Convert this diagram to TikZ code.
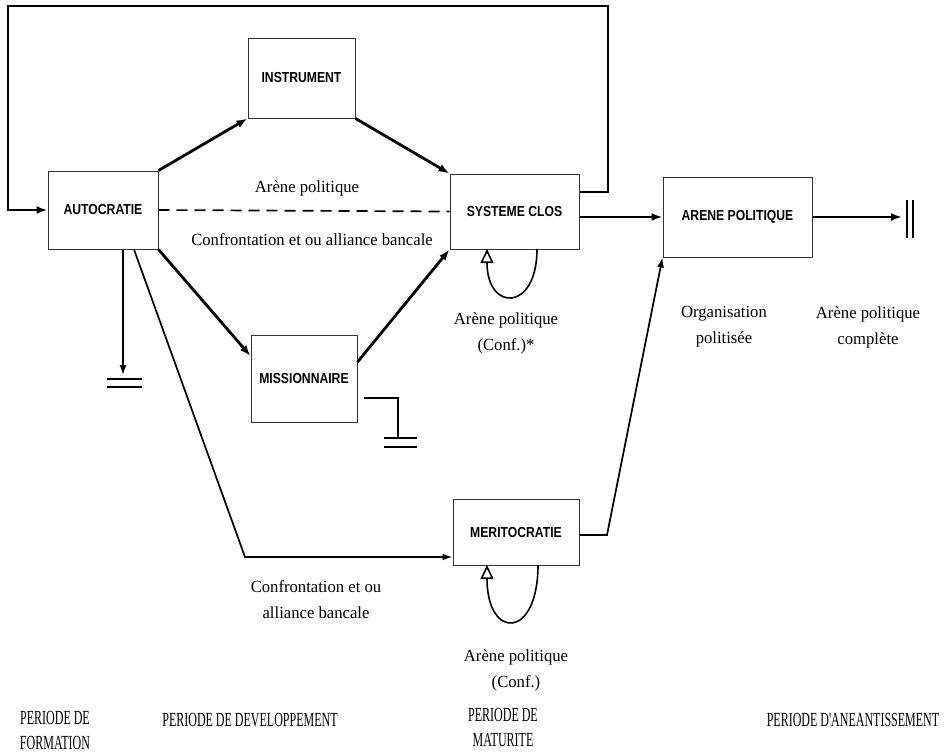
\documentclass[tikz,border=0pt]{standalone}
\usepackage{fontspec}
\setmainfont{Liberation Serif}
\newfontfamily\lblfont[FakeStretch=0.98]{Liberation Serif}
\newfontfamily\perfont[FakeStretch=0.6]{Liberation Serif}
\newfontfamily\boxfont[FakeStretch=0.84]{Liberation Sans}
\usetikzlibrary{arrows.meta}
\begin{document}
\begin{tikzpicture}[x=1pt,y=-1pt,
  stage/.style={draw=black!80, line width=1pt, fill=white, inner sep=0pt,
    font=\boxfont\bfseries\fontsize{14.5}{16}\selectfont},
  heavy/.style={line width=2.8pt, -{Latex[length=11pt,width=8pt]}},
  light/.style={line width=1.7pt, -{Latex[length=10pt,width=7pt]}},
  plain/.style={line width=1.6pt},
  selfloop/.style={line width=1.6pt, -{Triangle[open,length=14pt,width=13pt,line width=1.6pt]}},
  lbl/.style={align=center, font=\lblfont\fontsize{17}{26}\selectfont},
  period/.style={align=center, font=\perfont\fontsize{20}{25}\selectfont}]

\useasboundingbox (0,0) rectangle (945,753);

% stages
\node[stage, minimum width=110pt, minimum height=78pt] (auto)  at (103,210)   {AUTOCRATIE};
\node[stage, minimum width=107pt, minimum height=80pt] (instr) at (301.5,78)  {INSTRUMENT};
\node[stage, minimum width=129pt, minimum height=75pt] (sys)   at (514.5,211.5) {SYSTEME CLOS};
\node[stage, minimum width=149pt, minimum height=80pt] (arene) at (737.5,217) {ARENE POLITIQUE};
\node[stage, minimum width=106pt, minimum height=87pt] (miss)  at (304,378.5) {MISSIONNAIRE};
\node[stage, minimum width=126pt, minimum height=66pt] (merit) at (516,532)   {MERITOCRATIE};

% feedback from the closed system back to autocracy
\coordinate (fbA) at (608,6);
\coordinate (fbB) at (8,6);
\draw[heavy] ([yshift=19.5pt]sys.east) -| (fbA) -- (fbB) |- (auto.west);

% development paths
\draw[heavy] (auto.north east) -- (instr.south west);
\draw[heavy] (instr.south east) -- (sys.north west);
\draw[line width=1.7pt, dash pattern=on 11pt off 7pt] (auto.east) -- (sys.west);
\draw[heavy] (auto.south east) -- ([yshift=22.5pt]miss.west);
\draw[heavy] ([yshift=16.5pt]miss.east) -- (sys.south west);
\draw[heavy] ([yshift=-5.5pt]sys.east) -- (arene.west);

% path to meritocracy and on to the political arena
\coordinate (mbend) at (245,557);
\draw[light] ([xshift=31pt]auto.south) -- (mbend) -- (mbend -| merit.west);
\coordinate (mout) at (607,535);
\draw[light] (merit.east |- mout) -- (mout) -- (arene.south west);

% end of the arena
\coordinate (aend) at (902,217);
\draw[heavy] (arene.east) -- (aend);
\coordinate (barA) at (907,200);
\coordinate (barB) at (913,200);
\draw[line width=1.8pt] (barA) -- ++(0,38);
\draw[line width=1.8pt] (barB) -- ++(0,38);

% dead ends (grounds)
\coordinate (gA) at (123,375);
\draw[light] ([xshift=20pt]auto.south) -- (gA);
\draw[plain] (107,379) -- (142,379);
\draw[plain] (107,387) -- (142,387);

\coordinate (gB) at (398,438);
\draw[plain] ([xshift=6pt,yshift=-19.5pt]miss.east) -| (gB);
\draw[plain] (384,438) -- (417,438);
\draw[plain] (384,447) -- (417,447);

% self loops
\draw[selfloop] (537,249) .. controls (537,312) and (487,312) .. (487,249);
\draw[selfloop] (538,565) .. controls (538,640) and (487,640) .. (487,565);

% labels
\node[lbl] (l1) at (307,188) {Arène politique};
\node[lbl] (l2) at (312,240) {Confrontation et ou alliance bancale};
\node[lbl] (l3) at (506,333) {Arène politique\\(Conf.)*};
\node[lbl] (l4) at (724,327) {Organisation\\politisée};
\node[lbl] (l5) at (868,327) {Arène politique\\complète};
\node[lbl] (l6) at (316,600) {Confrontation et ou\\alliance bancale};
\node[lbl] (l7) at (516,670) {Arène politique\\(Conf.)};

% periods
\node[period] (p1) at (55,730)  {PERIODE DE\\FORMATION};
\node[period] (p2) at (250,720) {PERIODE DE DEVELOPPEMENT};
\node[period] (p3) at (503,727) {PERIODE DE\\MATURITE};
\node[period] (p4) at (853,720) {PERIODE D'ANEANTISSEMENT};
\end{tikzpicture}
\end{document}
